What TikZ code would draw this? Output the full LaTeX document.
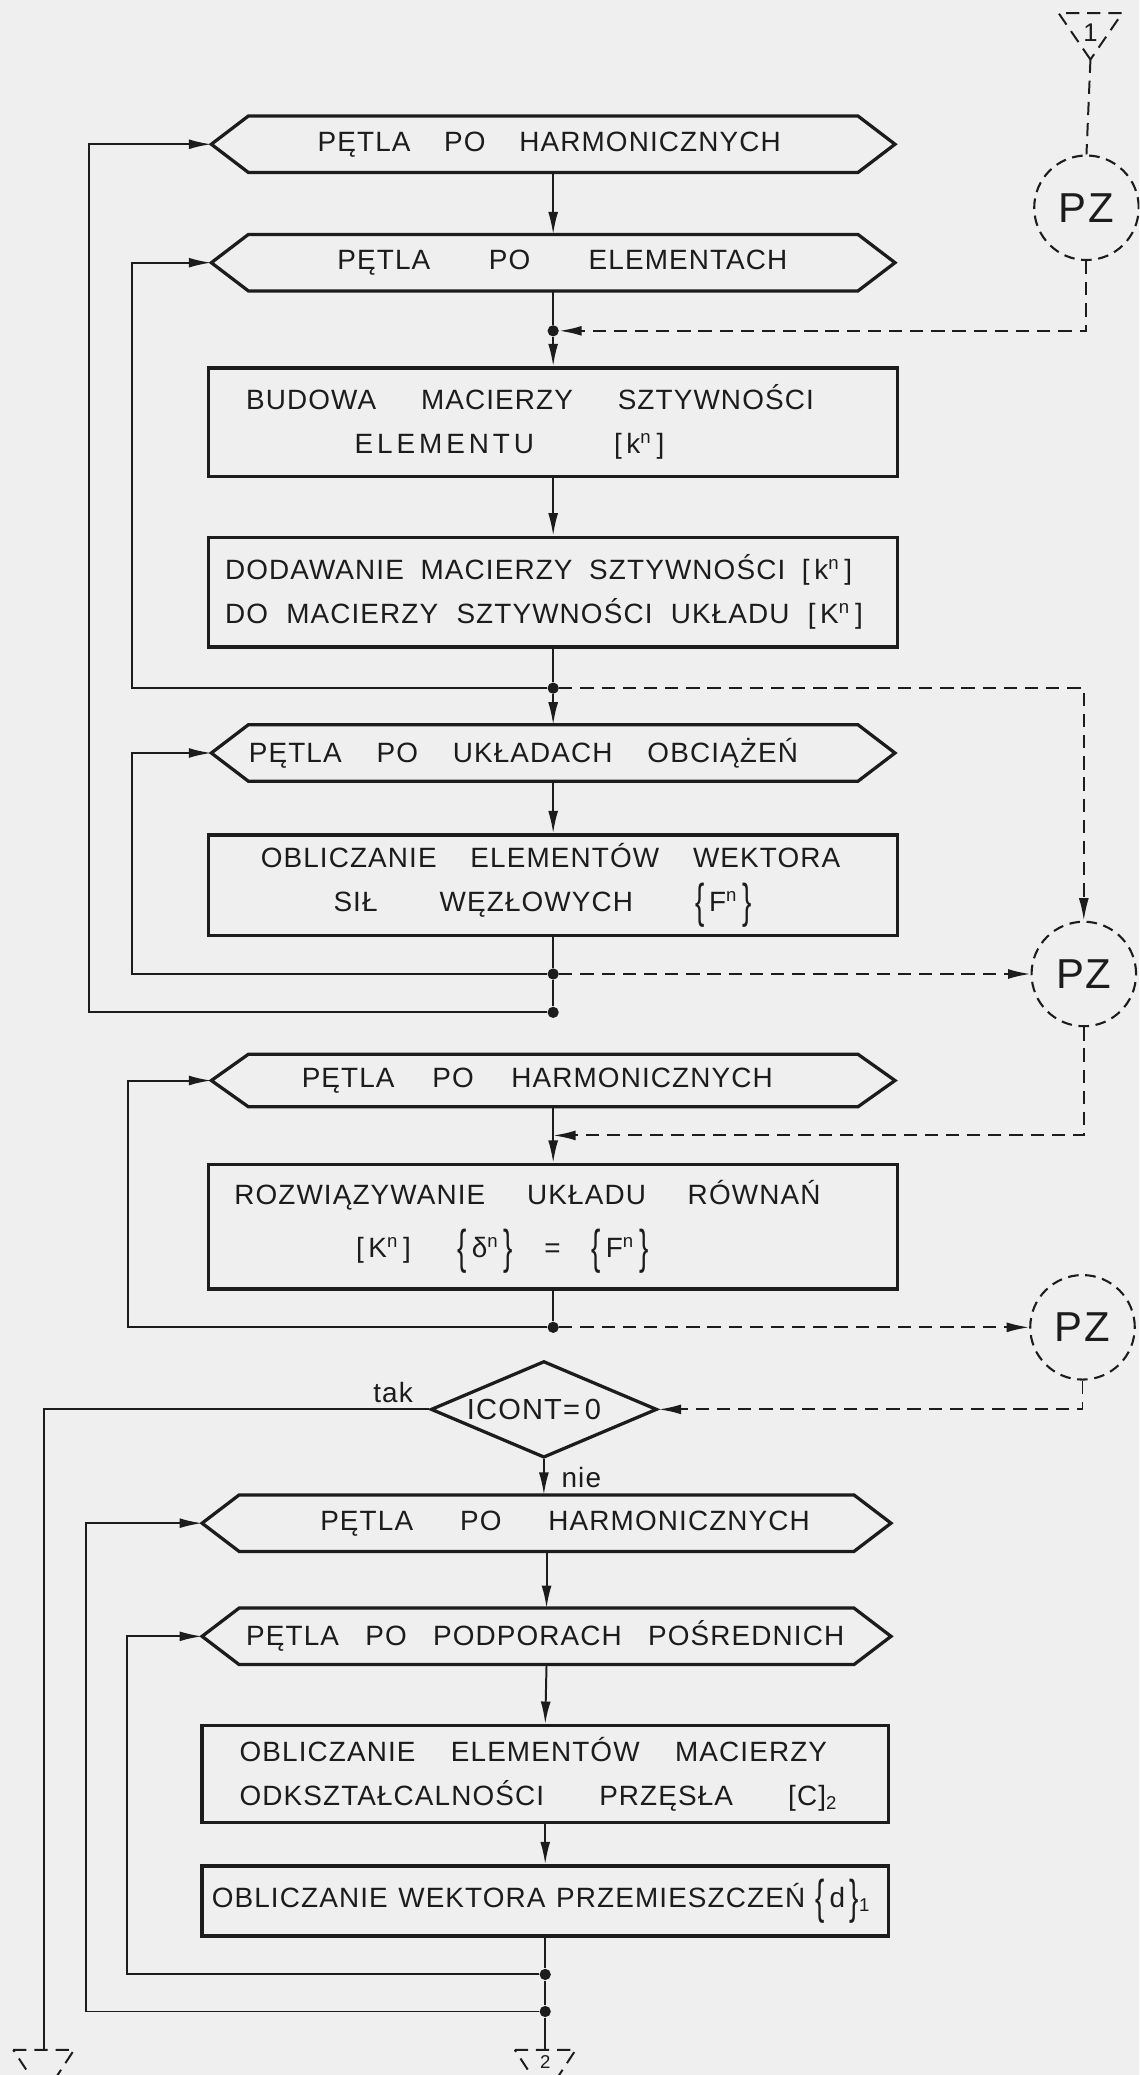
\documentclass[tikz,border=0pt]{standalone}
\usepackage{fontspec}
\setmainfont{Liberation Sans}[LetterSpace=4]
\usepackage{graphicx}
\usetikzlibrary{arrows.meta,shapes.geometric,calc}

\definecolor{paper}{RGB}{239,239,239}
\definecolor{ink}{RGB}{28,28,28}

% wiersz tekstu rozciagniety na szerokosc #1, przesuniety o #2
\newcommand{\tline}[3]{\hspace*{#2}\makebox[#1][s]{#3}\hspace*{-#2}}
\newcommand{\lbr}{\raisebox{-0.2em}{\scalebox{1}[1.7]{\{}}}
\newcommand{\rbr}{\raisebox{-0.2em}{\scalebox{1}[1.7]{\}}}}
\newcommand{\sqbr}[1]{[\,#1\,]}
\newcommand{\vect}[1]{\lbr\,#1\,\rbr}

\begin{document}
\begin{tikzpicture}[x=0.02cm, y=-0.02cm, >={Latex[length=3.4mm,width=1.5mm]},
    txt/.style={font=\fontsize{12}{19}\selectfont, text=ink},
    procbox/.style={txt, draw=ink, line width=1.4pt, inner sep=0pt, align=center, minimum width=10.42cm},
    loopbox/.style={txt, inner sep=0pt, minimum width=9.2cm, minimum height=0.84cm},
    testbox/.style={txt, font=\fontsize{12.5}{13}\selectfont, diamond, draw=ink, line width=1.4pt, aspect=2.37, minimum width=3.42cm, minimum height=1.46cm, inner sep=0pt},
    pzcircle/.style={circle, draw=ink, line width=0.9pt, dash pattern=on 1.6mm off 1mm, minimum size=1.58cm, inner sep=0pt, font=\fontsize{18}{18}\selectfont, text=ink},
    flowline/.style={draw=ink, line width=0.85pt},
    ctrlline/.style={draw=ink, line width=0.85pt, dash pattern=on 2mm off 1.2mm},
    junct/.style={circle, fill=ink, inner sep=0pt, minimum size=1.7mm}]

    \useasboundingbox (0,0) rectangle (861,1568);
    \fill[paper] (0,0) rectangle (861,1568);
    \clip (0,0) rectangle (861,1568);

    % petle i bloki - czesc gorna
    \node[loopbox] (h1) at (418,109) {\tline{7.0cm}{-0.06cm}{PĘTLA PO HARMONICZNYCH}};
    \node[loopbox] (h2) at (418,198.5) {\tline{6.8cm}{0.14cm}{PĘTLA PO ELEMENTACH}};
    \node[procbox, minimum height=1.64cm] (b1) at (418,319)
        {\tline{8.58cm}{-0.35cm}{BUDOWA MACIERZY SZTYWNOŚCI}\\
         \tline{4.68cm}{-0.66cm}{{\addfontfeature{LetterSpace=14}ELEMENTU} \sqbr{k\textsuperscript{n}}}};
    \node[procbox, minimum height=1.66cm] (b2) at (418,447.5)
        {\tline{9.48cm}{-0.22cm}{DODAWANIE MACIERZY SZTYWNOŚCI \sqbr{k\textsuperscript{n}}}\\
         \tline{9.64cm}{-0.14cm}{DO MACIERZY SZTYWNOŚCI UKŁADU \sqbr{K\textsuperscript{n}}}};
    \node[loopbox] (h3) at (418,569) {\tline{8.3cm}{-0.45cm}{PĘTLA PO UKŁADACH OBCIĄŻEŃ}};
    \node[procbox, minimum height=1.52cm] (b3) at (418,669)
        {\tline{8.76cm}{-0.04cm}{OBLICZANIE ELEMENTÓW WEKTORA}\\
         \tline{6.32cm}{-0.16cm}{SIŁ WĘZŁOWYCH \vect{F\textsuperscript{n}}}};
    \node[loopbox, minimum height=0.78cm] (h4) at (418,816.5) {\tline{7.12cm}{-0.24cm}{PĘTLA PO HARMONICZNYCH}};
    \node[procbox, minimum height=1.88cm] (b4) at (418,927)
        {\tline{8.86cm}{-0.39cm}{ROZWIĄZYWANIE UKŁADU RÓWNAŃ}\\[4pt]
         \tline{4.42cm}{-0.77cm}{\sqbr{K\textsuperscript{n}}\hspace{0pt plus 3fil}\vect{δ\textsuperscript{n}}\hspace{0pt plus 2fil}=\hspace{0pt plus 2fil}\vect{F\textsuperscript{n}}}};

    % warunek i czesc dolna
    \node[testbox] (d) at (411,1065) {ICONT=\,0\hspace*{0.3cm}};
    \node[loopbox, minimum width=9.28cm] (h5) at (413,1151) {\tline{7.4cm}{0.28cm}{PĘTLA PO HARMONICZNYCH}};
    \node[loopbox, minimum width=9.28cm] (h6) at (413,1236.5) {\tline{9.04cm}{-0.02cm}{PĘTLA PO PODPORACH POŚREDNICH}};
    \node[procbox, minimum width=10.38cm, minimum height=1.46cm] (b5) at (412,1340.5)
        {\tline{8.88cm}{-0.18cm}{OBLICZANIE ELEMENTÓW MACIERZY}\\
         \tline{9.04cm}{-0.1cm}{ODKSZTAŁCALNOŚCI PRZĘSŁA [C]\textsubscript{2}}};
    \node[procbox, minimum width=10.38cm, minimum height=1.06cm] (b6) at (412,1436.5)
        {\tline{9.96cm}{-0.06cm}{OBLICZANIE WEKTORA PRZEMIESZCZEŃ \vect{d}\textsubscript{1}}};

    % obrys petli
    \foreach \h in {h1,h2,h3,h4,h5,h6} {
        \coordinate (\h w) at ($(\h.west)+(-28,0)$);
        \draw[ink, line width=1.4pt] (\h.north west) -- (\h.north east) -- ($(\h.east)+(28,0)$)
            -- (\h.south east) -- (\h.south west) -- (\h w) -- cycle;
    }

    % punkty PZ
    \node[pzcircle] (p1) at (821,157) {PZ};
    \node[pzcircle] (p2) at (819,736) {PZ};
    \node[pzcircle] (p3) at (818,1003) {PZ};

    % wezly
    \node[junct] (j1) at (418,250) {};
    \node[junct] (j2) at (418,520) {};
    \node[junct] (j3) at (418,736) {};
    \node[junct] (j4) at (418,765) {};
    \coordinate (j5) at (418,858);
    \node[junct] (j6) at (418,1003) {};
    \node[junct] (j7) at (412,1492) {};
    \node[junct] (j8) at (412,1520) {};

    % lączniki
    \coordinate (t1) at (824,45);
    \coordinate (t2) at (33,1549);
    \coordinate (t3) at (412,1549);
    \draw[ctrlline] (t1) -- ++(-24,-35) -- ++(48,0) -- cycle;
    \node[txt, font=\fontsize{11}{11}\selectfont] at (824,25) {1};
    \draw[ctrlline] (t2) ++(-23,0) -- ++(46,0) -- ++(-23,35) -- cycle;
    \draw[ctrlline] (t3) ++(-23,0) -- ++(46,0) -- ++(-23,35) -- cycle;
    \node[txt, font=\fontsize{8}{8}\selectfont, anchor=north, inner sep=0pt] at (412,1553) {2};

    % przeplyw
    \draw[flowline,->] (h1.south) -- (h2.north);
    \draw[flowline] (h2.south) -- (j1);
    \draw[flowline,->] (j1) -- (b1.north);
    \draw[flowline,->] (b1.south) -- (b2.north);
    \draw[flowline] (b2.south) -- (j2);
    \draw[flowline,->] (j2) -- (h3.north);
    \draw[flowline,->] (h3.south) -- (b3.north);
    \draw[flowline] (b3.south) -- (j3) -- (j4);
    \draw[flowline,->] (h4.south) -- (b4.north);
    \draw[flowline] (b4.south) -- (j6);
    \draw[flowline,->] (d.south) -- (d.south |- h5.north);
    \draw[flowline,->] (h5.south) -- (h6.north);
    \draw[flowline,->] (h6.south) -- (b5.north);
    \draw[flowline,->] (b5.south) -- (b6.north);
    \draw[flowline] (b6.south) -- (j7) -- (j8) -- (t3);
    \draw[flowline] (d.west) -| (t2);
    \node[txt, anchor=south east, inner sep=0pt] at ($(d.west)+(-12,-5)$) {tak};
    \node[txt, anchor=north west, inner sep=0pt] at ($(d.south)+(13,6)$) {nie};

    % powroty petli
    \draw[flowline,->] (j4) -| (67,109) -- (h1w);
    \draw[flowline,->] (j2) -| (100,198.5) -- (h2w);
    \draw[flowline,->] (j3) -| (100,569) -- (h3w);
    \draw[flowline,->] (j6) -| (97,816.5) -- (h4w);
    \draw[flowline,->] (j8) -| (65,1151) -- (h5w);
    \draw[flowline,->] (j7) -| (96,1236.5) -- (h6w);

    % sterowanie PZ
    \draw[ctrlline] (t1) -- (p1.north);
    \draw[ctrlline,->] (p1.south) |- (j1);
    \draw[ctrlline,->] (j2) -| (p2.north);
    \draw[ctrlline,->] (j3) -- (p2.west);
    \draw[ctrlline,->] (p2.south) |- (j5);
    \draw[ctrlline,->] (j6) -- (p3.west);
    \draw[ctrlline,->] (p3.south) |- (d.east);
\end{tikzpicture}
\end{document}
